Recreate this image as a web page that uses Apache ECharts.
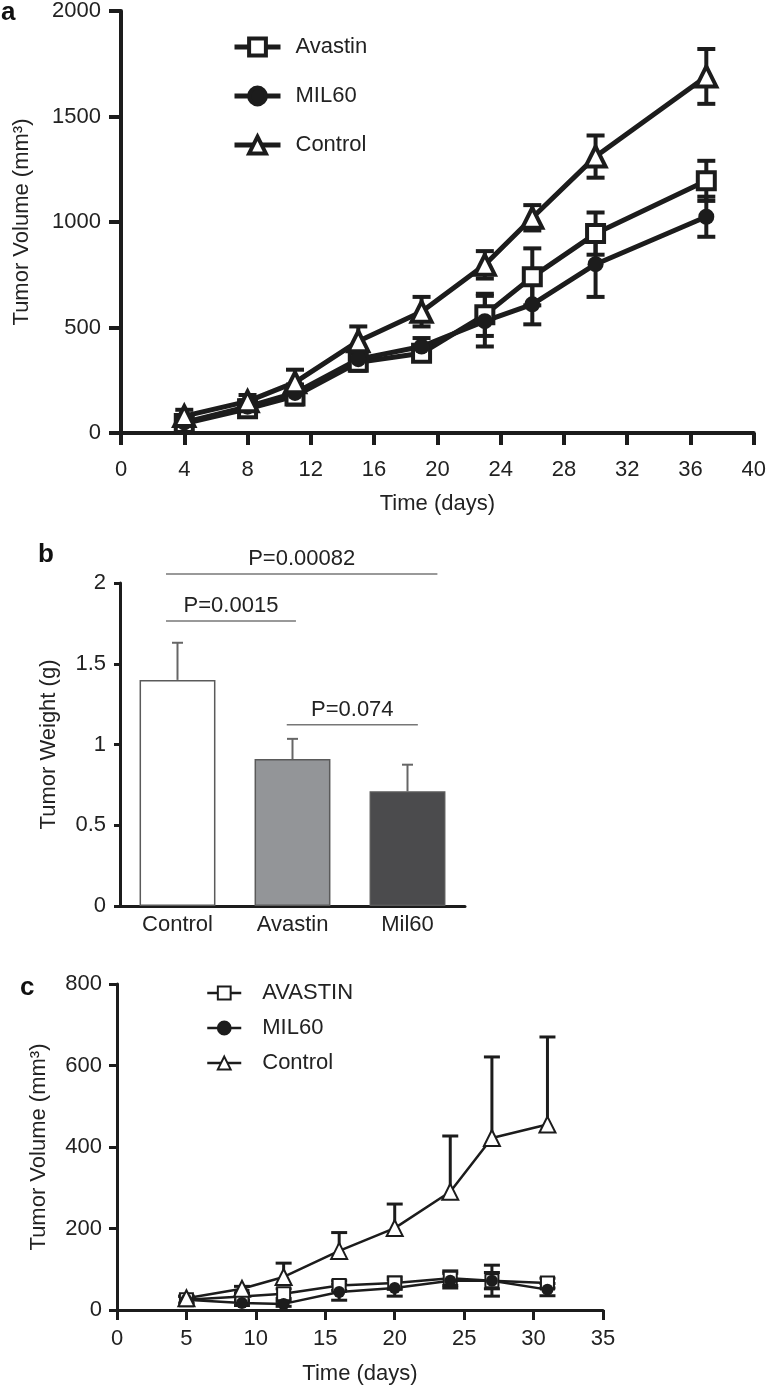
<!DOCTYPE html>
<html><head><meta charset="utf-8">
<script src="https://cdn.jsdelivr.net/npm/echarts@6/dist/echarts.min.js"></script>
<style>
html,body{margin:0;padding:0;background:#fff;width:769px;height:1392px;overflow:hidden}
.p{position:absolute;left:0;width:769px}
</style></head><body>
<div id="pa" class="p" style="top:0;height:520px"></div>
<div id="pb" class="p" style="top:520px;height:430px"></div>
<div id="pc" class="p" style="top:950px;height:442px"></div>
<script>
// ---------- Panel a : tumor volume ----------
const daysA = [4, 8, 11, 15, 19, 23, 26, 30, 37];
const avastinA = [45, 115, 175, 335, 378, 560, 740, 945, 1195];
const avastinAErr = [30, 30, 40, 40, 35, 100, 135, 100, 95];
const mil60A = [50, 125, 190, 350, 410, 530, 610, 800, 1025];
const mil60AErr = [30, 30, 40, 45, 40, 120, 95, 155, 95];
const controlA = [80, 150, 240, 435, 575, 797, 1020, 1310, 1690];
const controlAErr = [30, 30, 60, 70, 70, 65, 60, 100, 130];
const namesA = ['Avastin', 'MIL60', 'Control'];

// ---------- Panel b : tumor weight ----------
const groupsB = ['Control', 'Avastin', 'Mil60'];
const weightB = [1.40, 0.91, 0.71];
const weightErrB = [0.23, 0.125, 0.165];
const pFrom = [0, 0, 1];
const pTo = [2, 1, 2];
const pLevel = [2.056, 1.765, 1.123];
const pLabels = ['P=0.00082', 'P=0.0015', 'P=0.074'];

// ---------- Panel c : tumor volume ----------
const daysC = [5, 9, 12, 16, 20, 24, 27, 31];
const avastinC = [25, 33, 40, 60, 66, 78, 72, 66];
const avastinCErr = [8, 8, 12, 12, 15, 18, 38, 12];
const mil60C = [25, 17, 15, 44, 54, 72, 72, 50];
const mil60CErr = [8, 6, 6, 20, 20, 18, 20, 15];
const controlC = [29, 52, 81, 145, 201, 290, 422, 455];
const controlCErr = [6, 6, 34, 45, 59, 137, 199, 215];
const namesC = ['AVASTIN', 'MIL60', 'Control'];

// ---------- styling ----------
const FONT = '"Liberation Sans", Arial, sans-serif';
const INK = '#1c1c1c';
const TXT = '#222';
const plain = v => String(v);

function errSeries(xs, ys, es, opt) {
  return {
    type: 'custom', silent: true, z: 1, clip: false,
    data: xs.map((x, i) => [x, ys[i], es[i]]),
    renderItem: function (params, api) {
      const x = api.value(0), y = api.value(1), e = api.value(2);
      const c = api.coord([x, y]);
      const hi = api.coord([x, y + e]);
      const lo = opt.upOnly ? c : api.coord([x, y - e]);
      const w = opt.cap / 2;
      const st = { stroke: opt.color, lineWidth: opt.width };
      const ch = [
        { type: 'line', shape: { x1: c[0], y1: lo[1], x2: c[0], y2: hi[1] }, style: st },
        { type: 'line', shape: { x1: c[0] - w, y1: hi[1], x2: c[0] + w, y2: hi[1] }, style: st }
      ];
      if (!opt.upOnly) ch.push({ type: 'line', shape: { x1: c[0] - w, y1: lo[1], x2: c[0] + w, y2: lo[1] }, style: st });
      return { type: 'group', children: ch };
    }
  };
}

function lineSeries(name, xs, ys, sym, filled, size, lw, bw) {
  return {
    name: name, type: 'line', z: 3,
    data: xs.map((x, i) => [x, ys[i]]),
    symbol: sym, symbolSize: size,
    lineStyle: { color: INK, width: lw },
    itemStyle: { color: filled ? INK : '#fff', borderColor: INK, borderWidth: filled ? 0 : bw, opacity: 1 },
    emphasis: { disabled: true }, animation: false
  };
}

function axisCommon(fs) {
  return {
    nameTextStyle: { color: TXT, fontSize: fs, fontFamily: FONT }
  };
}

// ---------- Chart a ----------
const ca = echarts.init(document.getElementById('pa'), null, { renderer: 'canvas' });
ca.setOption({
  animation: false,
  graphic: [{ type: 'text', left: 1, top: 0, style: { text: 'a', fontSize: 26, fontWeight: 'bold', fontFamily: FONT, fill: '#111' } }],
  grid: { left: 121, top: 10, width: 636, height: 424 },
  legend: {
    data: namesA, orient: 'vertical', left: 227, top: 31, itemGap: 27,
    itemWidth: 46, itemHeight: 21,
    textStyle: { color: TXT, fontSize: 22, fontFamily: FONT, padding: [0, 0, 0, 10] },
    lineStyle: { width: 5 },
    itemStyle: { borderWidth: 4 }, selectedMode: false
  },
  xAxis: Object.assign(axisCommon(22), {
    type: 'value', min: 0, max: 40, interval: 4,
    name: 'Time (days)', nameLocation: 'middle', nameGap: 60,
    axisLine: { lineStyle: { color: INK, width: 4 } },
    axisTick: { lineStyle: { color: INK, width: 4 }, length: 12 },
    axisLabel: { color: TXT, fontSize: 22, fontFamily: FONT, margin: 26, formatter: plain },
    splitLine: { show: false }
  }),
  yAxis: Object.assign(axisCommon(22), {
    type: 'value', min: 0, max: 2000, interval: 500,
    name: 'Tumor Volume (mm³)', nameLocation: 'middle', nameGap: 88,
    axisLine: { show: true, lineStyle: { color: INK, width: 4 } },
    axisTick: { show: true, lineStyle: { color: INK, width: 4 }, length: 12 },
    axisLabel: { color: TXT, fontSize: 22, fontFamily: FONT, margin: 20, formatter: plain },
    splitLine: { show: false }
  }),
  series: [
    errSeries(daysA, avastinA, avastinAErr, { cap: 18, width: 4, color: INK }),
    errSeries(daysA, mil60A, mil60AErr, { cap: 18, width: 4, color: INK }),
    errSeries(daysA, controlA, controlAErr, { cap: 18, width: 4, color: INK }),
    lineSeries(namesA[0], daysA, avastinA, 'rect', false, 17, 5, 4),
    lineSeries(namesA[1], daysA, mil60A, 'circle', true, 16, 5, 4),
    lineSeries(namesA[2], daysA, controlA, 'triangle', false, 20, 5, 4)
  ]
});

// ---------- Chart b ----------
const cb = echarts.init(document.getElementById('pb'), null, { renderer: 'canvas' });
const barColors = ['#ffffff', '#939598', '#4b4b4d'];
const pExt = [[-0.1, 0.26], [-0.1, 0.03], [-0.05, 0.09]];
cb.setOption({
  animation: false,
  graphic: [{ type: 'text', left: 38, top: 22, style: { text: 'b', fontSize: 26, fontWeight: 'bold', fontFamily: FONT, fill: '#111' } }],
  grid: { left: 120, top: 63, width: 345, height: 323 },
  xAxis: Object.assign(axisCommon(22), {
    type: 'category', data: groupsB,
    axisLine: { lineStyle: { color: INK, width: 3 } },
    axisTick: { inside: true, length: 6, lineStyle: { color: INK, width: 3 } },
    axisLabel: { color: TXT, fontSize: 22, fontFamily: FONT, margin: 8 }
  }),
  yAxis: Object.assign(axisCommon(22), {
    type: 'value', min: 0, max: 2, interval: 0.5,
    name: 'Tumor Weight (g)', nameLocation: 'middle', nameGap: 60,
    axisLine: { show: true, lineStyle: { color: INK, width: 3 } },
    axisTick: { show: true, length: 6, lineStyle: { color: INK, width: 3 } },
    axisLabel: { color: TXT, fontSize: 22, fontFamily: FONT, margin: 14 },
    splitLine: { show: false }
  }),
  series: [
    {
      type: 'bar', barWidth: '66%', z: 2,
      data: weightB.map((v, i) => ({ value: v, itemStyle: { color: barColors[i] } })),
      itemStyle: { borderColor: '#5a5a5a', borderWidth: 1.5 },
      emphasis: { disabled: true }
    },
    errSeries(groupsB.map((g, i) => i), weightB, weightErrB, { cap: 11, width: 2, color: '#666', upOnly: true }),
    {
      type: 'custom', silent: true, clip: false, z: 5,
      data: pLabels.map((l, i) => [pFrom[i], pTo[i], pLevel[i], i]),
      renderItem: function (params, api) {
        const i = api.value(3);
        const band = api.size([1, 0])[0];
        const a = api.coord([api.value(0), api.value(2)]);
        const b = api.coord([api.value(1), api.value(2)]);
        const x1 = a[0] + pExt[i][0] * band, x2 = b[0] + pExt[i][1] * band;
        return {
          type: 'group', children: [
            { type: 'line', shape: { x1: x1, y1: a[1], x2: x2, y2: a[1] }, style: { stroke: '#777', lineWidth: 1.5 } },
            { type: 'text', style: { text: pLabels[i], x: (x1 + x2) / 2, y: a[1] - 4, align: 'center', verticalAlign: 'bottom', fontSize: 22, fontFamily: FONT, fill: TXT } }
          ]
        };
      }
    }
  ]
});

// ---------- Chart c ----------
const cc = echarts.init(document.getElementById('pc'), null, { renderer: 'canvas' });
cc.setOption({
  animation: false,
  graphic: [{ type: 'text', left: 20, top: 25, style: { text: 'c', fontSize: 26, fontWeight: 'bold', fontFamily: FONT, fill: '#111' } }],
  grid: { left: 117, top: 34, width: 486, height: 326 },
  legend: {
    data: namesC, orient: 'vertical', left: 201, top: 27, itemGap: 13,
    itemWidth: 34, itemHeight: 16,
    textStyle: { color: TXT, fontSize: 22, fontFamily: FONT, padding: [0, 0, 0, 16] },
    lineStyle: { width: 2.5 },
    itemStyle: { borderWidth: 2 }, selectedMode: false
  },
  xAxis: Object.assign(axisCommon(22), {
    type: 'value', min: 0, max: 35, interval: 5,
    name: 'Time (days)', nameLocation: 'middle', nameGap: 53,
    axisLine: { lineStyle: { color: INK, width: 3 } },
    axisTick: { lineStyle: { color: INK, width: 3 }, length: 10 },
    axisLabel: { color: TXT, fontSize: 22, fontFamily: FONT, margin: 18, formatter: plain },
    splitLine: { show: false }
  }),
  yAxis: Object.assign(axisCommon(22), {
    type: 'value', min: 0, max: 800, interval: 200,
    name: 'Tumor Volume (mm³)', nameLocation: 'middle', nameGap: 67,
    axisLine: { show: true, lineStyle: { color: INK, width: 3 } },
    axisTick: { show: true, lineStyle: { color: INK, width: 3 }, length: 8 },
    axisLabel: { color: TXT, fontSize: 22, fontFamily: FONT, margin: 15, formatter: plain },
    splitLine: { show: false }
  }),
  series: [
    errSeries(daysC, avastinC, avastinCErr, { cap: 16, width: 3, color: INK }),
    errSeries(daysC, mil60C, mil60CErr, { cap: 16, width: 3, color: INK }),
    errSeries(daysC, controlC, controlCErr, { cap: 16, width: 3, color: INK, upOnly: true }),
    lineSeries(namesC[0], daysC, avastinC, 'rect', false, 13, 2.5, 2),
    lineSeries(namesC[1], daysC, mil60C, 'circle', true, 12, 2.5, 2),
    lineSeries(namesC[2], daysC, controlC, 'triangle', false, 16, 2.5, 2)
  ]
});
</script>
</body></html>
